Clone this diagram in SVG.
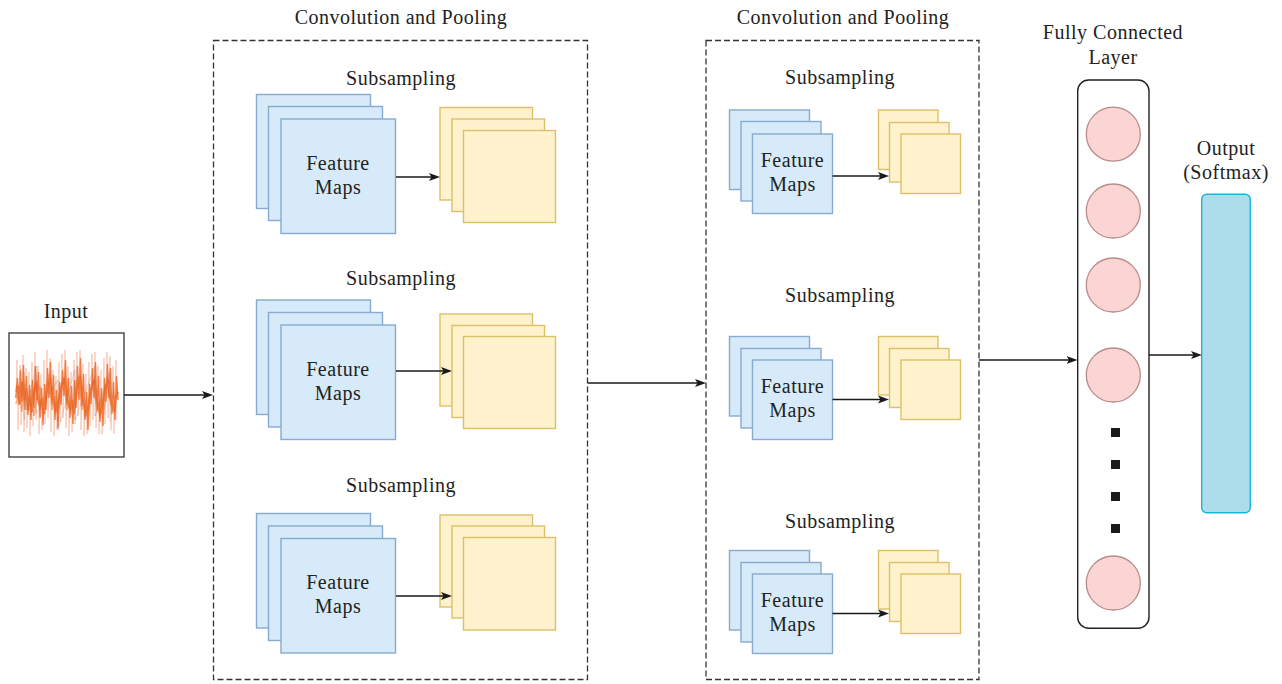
<svg xmlns="http://www.w3.org/2000/svg" width="1282" height="684" viewBox="0 0 1282 684">
<defs>
<style>
text{font-family:"Liberation Serif","Times New Roman",serif;font-size:20px;letter-spacing:0.5px;fill:#222;text-anchor:middle}
.blue{fill:#d7eaf9;stroke:#86abcf;stroke-width:1.4}
.yel{fill:#fff2cc;stroke:#dcc069;stroke-width:1.4}
.dash{fill:none;stroke:#333;stroke-width:1.3;stroke-dasharray:6 3}
.circ{fill:#fad5d4;stroke:#b88c8a;stroke-width:1.3}
.dot{fill:#1a1a1a}
.conn path{fill:none;stroke:#1a1a1a;stroke-width:1.3;marker-end:url(#arr)}
</style>
<marker id="arr" markerUnits="userSpaceOnUse" markerWidth="11" markerHeight="9" refX="6.5" refY="4.5" orient="auto">
<path d="M0,0.5 L11,4.5 L0,8.5 L2.5,4.5 Z" fill="#1a1a1a"/>
</marker>
</defs>
<rect width="1282" height="684" fill="#fff"/>

<g id="input">
<text x="66" y="318">Input</text>
<rect x="9" y="333" width="115" height="124" fill="#fff" stroke="#333" stroke-width="1.3"/>
<polyline fill="none" stroke="#f7b39a" stroke-width="0.8" opacity="0.8" points="16,395 17,360 18,430 20,365 21,425 23,355 24,432 26,368 27,428 29,372 30,436 32,362 33,426 35,352 36,420 38,366 39,434 41,374 42,430 44,360 45,424 47,350 48,418 50,358 51,432 53,370 54,436 56,376 57,430 59,362 60,422 62,354 63,418 65,350 66,428 68,366 69,436 71,372 72,432 74,360 75,424 77,352 78,416 80,350 81,430 83,364 84,436 86,374 87,434 89,362 90,426 92,354 93,420 95,352 96,428 98,366 99,434 101,370 102,434 104,358 105,424 107,352 108,418 110,356 111,430 113,366 114,434 116,360 117,420"/>
<polyline fill="none" stroke="#ef6a2c" stroke-width="1.4" opacity="0.85" points="16,392 17.5,378 19,405 20.5,370 22,402 23.5,365 25,410 26.5,376 28,415 29.5,385 31,420 32.5,380 34,408 35.5,366 37,400 38.5,372 40,418 41.5,388 43,425 44.5,384 46,410 47.5,368 49,398 50.5,362 52,405 53.5,375 55,420 56.5,390 58,428 59.5,382 61,405 62.5,370 64,396 65.5,360 67,404 68.5,378 70,418 71.5,386 73,424 74.5,380 76,408 77.5,366 79,400 80.5,358 82,406 83.5,374 85,420 86.5,392 88,430 89.5,384 91,404 92.5,368 94,398 95.5,362 97,410 98.5,376 100,422 101.5,388 103,426 104.5,378 106,402 107.5,364 109,398 110.5,368 112,414 113.5,382 115,420 116.5,376 118,400"/>
<polyline fill="none" stroke="#ec6220" stroke-width="2.4" opacity="0.7" points="16,398 18,386 20,404 22,382 24,400 26,388 28,410 30,396 32,412 34,392 36,382 38,400 40,406 42,398 44,414 46,396 48,384 50,380 52,396 54,402 56,412 58,404 60,394 62,384 64,378 66,392 68,404 70,408 72,400 74,414 76,394 78,380 80,378 82,398 84,404 86,414 88,410 90,396 92,386 94,380 96,398 98,404 100,414 102,408 104,396 106,386 108,382 110,398 112,406 114,410 116,396 118,392"/>
<polyline fill="none" stroke="#f08040" stroke-width="1.6" opacity="0.6" points="16,404 19,390 22,412 25,384 28,404 31,390 34,416 37,394 40,386 43,408 46,388 49,374 52,410 55,396 58,416 61,392 64,384 67,410 70,396 73,418 76,386 79,376 82,410 85,398 88,420 91,392 94,386 97,412 100,400 103,418 106,390 109,384 112,410 115,400 118,396"/>
<polyline fill="none" stroke="#8a6a5a" stroke-width="0.6" opacity="0.45" points="24,372 24,420 36,366 36,414 58,380 58,430 75,370 75,420 95,366 95,416 110,372 110,422"/>
</g>

<g id="conv1">
<rect class="dash" x="213.5" y="40.5" width="374" height="639"/>
<text x="401" y="24">Convolution and Pooling</text>
</g>
<g id="block1a">
<text x="401" y="85">Subsampling</text>
<rect class="blue" x="256.5" y="94.5" width="114" height="114"/>
<rect class="blue" x="268.5" y="106.5" width="114" height="114"/>
<rect class="blue" x="281" y="119" width="114.5" height="114.5"/>
<text x="338" y="169.5">Feature</text>
<text x="338" y="193.5">Maps</text>
<rect class="yel" x="440" y="107.5" width="92.5" height="92.5"/>
<rect class="yel" x="452" y="119" width="92.5" height="92.5"/>
<rect class="yel" x="463.5" y="130.5" width="92" height="92"/>
</g>
<g id="block1b">
<text x="401" y="285">Subsampling</text>
<rect class="blue" x="256.5" y="300" width="114" height="114.5"/>
<rect class="blue" x="268.5" y="312.5" width="114" height="114.5"/>
<rect class="blue" x="281" y="325" width="114.5" height="114.5"/>
<text x="338" y="375.5">Feature</text>
<text x="338" y="399.5">Maps</text>
<rect class="yel" x="440" y="314" width="92.5" height="92"/>
<rect class="yel" x="452" y="325.5" width="92.5" height="92"/>
<rect class="yel" x="463.5" y="336.5" width="92" height="92"/>
</g>
<g id="block1c">
<text x="401" y="491.5">Subsampling</text>
<rect class="blue" x="256.5" y="513.5" width="114" height="114.5"/>
<rect class="blue" x="268.5" y="526" width="114" height="114.5"/>
<rect class="blue" x="281" y="538.5" width="114.5" height="114.5"/>
<text x="338" y="588.5">Feature</text>
<text x="338" y="612.5">Maps</text>
<rect class="yel" x="440" y="515" width="92.5" height="92"/>
<rect class="yel" x="452" y="526" width="92.5" height="92"/>
<rect class="yel" x="463.5" y="537.5" width="92" height="92.5"/>
</g>

<g id="conv2">
<rect class="dash" x="706" y="40.5" width="273" height="639"/>
<text x="843" y="24">Convolution and Pooling</text>
</g>
<g id="block2a">
<text x="840" y="84">Subsampling</text>
<rect class="blue" x="729.5" y="110" width="80" height="79.5"/>
<rect class="blue" x="741" y="121.5" width="80" height="79.5"/>
<rect class="blue" x="752.5" y="134" width="80" height="79.5"/>
<text x="792.5" y="166.5">Feature</text>
<text x="792.5" y="191">Maps</text>
<rect class="yel" x="878.5" y="110" width="59.5" height="59.5"/>
<rect class="yel" x="889.5" y="122.5" width="59.5" height="59.5"/>
<rect class="yel" x="901" y="134" width="59.5" height="59.5"/>
</g>
<g id="block2b">
<text x="840" y="301.5">Subsampling</text>
<rect class="blue" x="729.5" y="336.5" width="80" height="79.5"/>
<rect class="blue" x="741" y="348.5" width="80" height="79.5"/>
<rect class="blue" x="752.5" y="360" width="80" height="79.5"/>
<text x="792.5" y="393">Feature</text>
<text x="792.5" y="417">Maps</text>
<rect class="yel" x="878.5" y="336.5" width="59.5" height="58.5"/>
<rect class="yel" x="889.5" y="348.5" width="59.5" height="59"/>
<rect class="yel" x="901" y="360" width="59.5" height="59.5"/>
</g>
<g id="block2c">
<text x="840" y="527.5">Subsampling</text>
<rect class="blue" x="729.5" y="550.5" width="80" height="79.5"/>
<rect class="blue" x="741" y="562.5" width="80" height="79.5"/>
<rect class="blue" x="752.5" y="574" width="80" height="79.5"/>
<text x="792.5" y="607">Feature</text>
<text x="792.5" y="631">Maps</text>
<rect class="yel" x="878.5" y="550.5" width="59.5" height="58.5"/>
<rect class="yel" x="889.5" y="562.5" width="59.5" height="59"/>
<rect class="yel" x="901" y="574" width="59.5" height="59.5"/>
</g>

<g id="fc">
<text x="1113" y="38.5">Fully Connected</text>
<text x="1113" y="63.5">Layer</text>
<rect x="1077.7" y="80" width="71.3" height="548.3" rx="11" fill="#fff" stroke="#222" stroke-width="1.4"/>
<circle class="circ" cx="1113.3" cy="134.2" r="27"/>
<circle class="circ" cx="1113.3" cy="211" r="27"/>
<circle class="circ" cx="1113.3" cy="285" r="27"/>
<circle class="circ" cx="1113.3" cy="375" r="27"/>
<rect class="dot" x="1111" y="428" width="9" height="9"/>
<rect class="dot" x="1111" y="460" width="9" height="9"/>
<rect class="dot" x="1111" y="492" width="9" height="9"/>
<rect class="dot" x="1111" y="524" width="9" height="9"/>
<circle class="circ" cx="1113.3" cy="583" r="27"/>
</g>

<g id="output">
<text x="1226" y="155">Output</text>
<text x="1226" y="179">(Softmax)</text>
<rect x="1201.7" y="194.3" width="48.6" height="318.4" rx="5" fill="#addcea" stroke="#1cb4dc" stroke-width="1.4"/>
</g>

<g id="connectors" class="conn">
<path d="M124,395 H208.5"/>
<path d="M396,177 H435.5"/>
<path d="M396,371 H447.5"/>
<path d="M396,596 H447.5"/>
<path d="M588,383 H701.5"/>
<path d="M832.5,176 H884.5"/>
<path d="M832.5,399.5 H884.5"/>
<path d="M832.5,613.5 H884.5"/>
<path d="M979,360 H1073"/>
<path d="M1149,355 H1197.5"/>
</g>
</svg>
